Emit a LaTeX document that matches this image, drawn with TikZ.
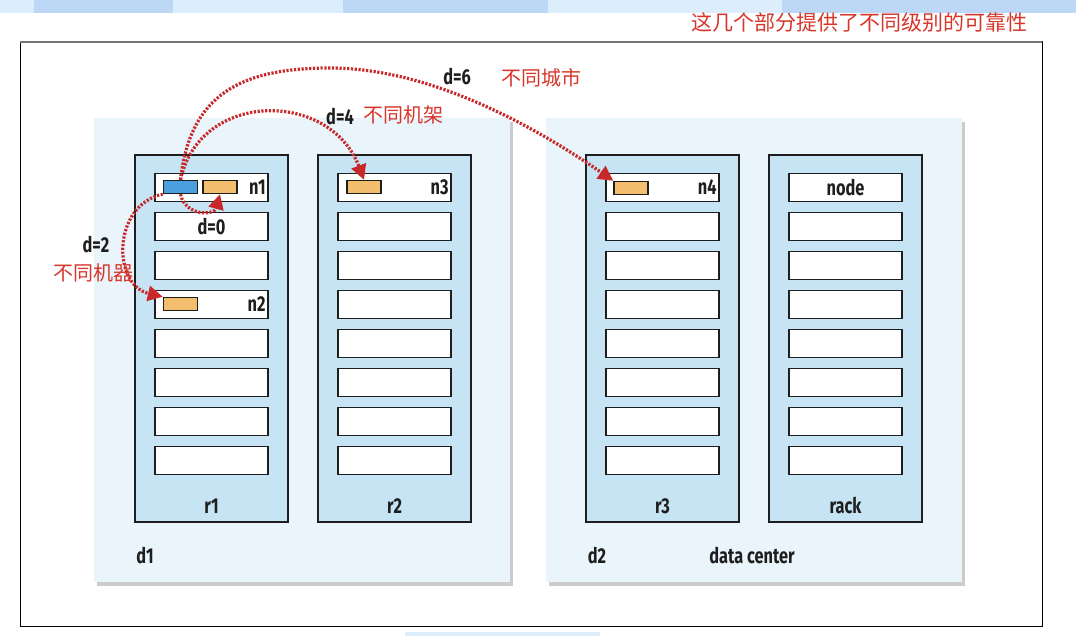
\documentclass[tikz,border=0pt]{standalone}
\usepackage{fontspec}
\usepackage{xcolor}
\setsansfont{Fira Sans}
\newfontfamily\cjk{Noto Sans CJK SC}
\newfontfamily\lblfont[FakeStretch=0.76]{Fira Sans}
\usetikzlibrary{positioning,arrows.meta,shadows}
\definecolor{barlight}{HTML}{DCEEFC}
\definecolor{bardark}{HTML}{BDD7F6}
\definecolor{dcfill}{HTML}{EAF4FB}
\definecolor{rackfill}{HTML}{C6E4F3}
\definecolor{hostorange}{HTML}{F3BE6E}
\definecolor{hostblue}{HTML}{4A9FDC}
\definecolor{hopred}{HTML}{C8282A}
\definecolor{zhred}{HTML}{D8352A}
\definecolor{edge}{HTML}{1E1E1E}

\begin{document}
\begin{tikzpicture}[x=1pt,y=-1pt,
    dcbox/.style={fill=dcfill,draw=none,minimum width=416pt,minimum height=464pt,
      drop shadow={shadow xshift=3pt,shadow yshift=-4pt,fill=black!40}},
    rackbox/.style={fill=rackfill,draw=edge,line width=1.6pt,minimum width=153pt,minimum height=367pt},
    slot/.style={fill=white,draw=edge,line width=1.6pt,minimum width=113pt,minimum height=28pt},
    host/.style={fill=hostorange,draw=edge,line width=1.4pt,minimum width=34pt,minimum height=13pt,inner sep=0pt},
    lbl/.style={font=\lblfont\fontsize{21.5}{24}\selectfont\bfseries,text=edge,inner sep=1pt},
    zh/.style={font=\cjk\fontsize{20}{24}\selectfont,text=zhred,inner sep=0pt},
    hop/.style={draw=hopred,line width=3.2pt,dash pattern=on 2.2pt off 1.6pt,
      -{Triangle[length=15pt,width=15pt]}}]
    \useasboundingbox (0,0) rectangle (1076,636);

    % strip along the top edge
    \fill[barlight] (0,0) rectangle (1076,13);
    \foreach \a/\b in {34/173,343/548,782/1076}
      \fill[bardark] (\a,0) rectangle (\b,13);
    \fill[barlight] (405,632) rectangle (600,636);

    % title
    \node[zh,font=\cjk\fontsize{21}{24}\selectfont] (title) at (859,23) {这几个部分提供了不同级别的可靠性};

    % frame
    \draw[black,line width=1pt] (20,42) rectangle (1042,626);
    \draw[black!55,line width=2pt] (20,42) -- (1042,42);

    % data centers
    \node[dcbox] (d1) at (301.5,350) {};
    \node[dcbox] (d2) at (753.5,350) {};
    \node[lbl] (d1-lab) at (145,556) {d1};
    \node[lbl] (d2-lab) at (597,556) {d2};
    \node[lbl] (dc-lab) at (752,556) {data center};

    % racks with eight slots each
    \foreach \r/\cx in {r1/211.5,r2/394.5,r3/662.5,rack/845.5}{
      \node[rackbox] (\r) at (\cx,338.5) {};
      \node[lbl] (\r-lab) at (\cx,506) {\r};
      \foreach \i in {1,...,8}
        \node[slot] (\r-s\i) at (\cx,{187.5+39*(\i-1)}) {};
    }

    % slot labels
    \node[lbl,anchor=east] (n1) at ([xshift=-2pt]r1-s1.east) {n1};
    \node[lbl] (d0) at (r1-s2) {d=0};
    \node[lbl,anchor=east] (n2) at ([xshift=-2pt]r1-s4.east) {n2};
    \node[lbl,anchor=east] (n3) at ([xshift=-2pt]r2-s1.east) {n3};
    \node[lbl,anchor=east] (n4) at ([xshift=-2pt]r3-s1.east) {n4};
    \node[lbl] (node) at (rack-s1) {node};

    % replicas
    \node[host,fill=hostblue] (blk) at (180.5,187) {};
    \node[host] (ob1) at (220,187) {};
    \node[host] (ob2) at (180.5,304) {};
    \node[host] (ob3) at (364,187) {};
    \node[host] (ob4) at (631,188) {};

    % distances
    \draw[hop] (blk.south) .. controls (185,216) and (214,216) .. (ob1.south);
    \draw[hop] (blk.south west) .. controls (112,205) and (112,285) .. (ob2.north west);
    \draw[hop] (blk.north) .. controls (200,90) and (330,90) .. (ob3.north);
    \draw[hop] (blk.north) .. controls (190,95) and (240,68) .. (330,68)
      .. controls (430,68) and (534,126) .. (ob4.north west);

    \node[lbl] (l6) at (457,77) {d=6};
    \node[zh] (z6) at (541,78) {不同城市};
    \node[lbl] (l4) at (340,117) {d=4};
    \node[zh] (z4) at (403,115) {不同机架};
    \node[lbl] (l2) at (96,245) {d=2};
    \node[zh] (z2) at (93,273) {不同机器};
  \end{tikzpicture}
\end{document}
